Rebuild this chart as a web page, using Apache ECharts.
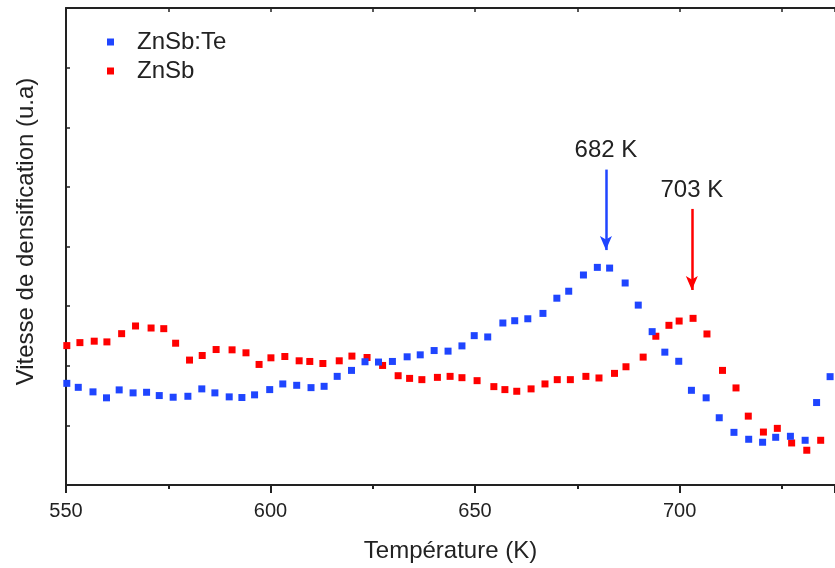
<!DOCTYPE html>
<html>
<head>
<meta charset="utf-8">
<script src="https://cdn.jsdelivr.net/npm/echarts@6/dist/echarts.min.js"></script>
<style>html,body{margin:0;padding:0;background:#fff}#c{width:835px;height:568px}</style>
</head>
<body>
<div id="c"></div>
<script>
// Temperatures (K) and densification rate (arbitrary units)
var teT = [550.2,553.0,556.6,559.9,563.0,566.4,569.7,572.8,576.2,579.8,583.2,586.4,589.9,593.0,596.1,599.8,603.0,606.4,609.9,613.1,616.3,619.8,623.1,626.4,629.8,633.4,636.6,640.0,643.4,646.8,649.8,653.1,656.8,659.7,662.9,666.6,670.0,672.9,676.5,679.9,682.9,686.7,689.9,693.3,696.4,699.8,702.9,706.5,709.7,713.3,716.9,720.3,723.5,727.1,730.7,733.5,736.8];
var teV = [1.705,1.638,1.562,1.462,1.595,1.545,1.555,1.500,1.472,1.488,1.612,1.545,1.478,1.467,1.512,1.600,1.695,1.672,1.633,1.655,1.822,1.922,2.067,2.062,2.072,2.150,2.183,2.255,2.245,2.333,2.505,2.483,2.717,2.755,2.788,2.878,3.133,3.250,3.522,3.650,3.638,3.388,3.017,2.572,2.228,2.075,1.588,1.462,1.128,0.883,0.767,0.717,0.800,0.817,0.750,1.383,1.817];
var znT = [550.2,553.4,556.9,560.0,563.6,567.0,570.8,573.9,576.8,580.2,583.3,586.7,590.6,594.0,597.2,600.1,603.5,607.0,609.6,612.8,616.8,619.9,623.6,627.4,631.2,634.0,637.0,640.8,643.9,646.8,650.5,654.6,657.3,660.2,663.7,667.1,670.1,673.3,677.1,680.3,684.1,686.9,691.1,694.2,697.4,699.9,703.3,706.7,710.5,713.8,716.8,720.5,723.9,727.4,731.1,734.5];
var znV = [2.338,2.388,2.412,2.400,2.538,2.667,2.633,2.622,2.378,2.095,2.172,2.272,2.267,2.217,2.022,2.133,2.155,2.083,2.072,2.038,2.083,2.162,2.138,2.005,1.833,1.788,1.767,1.805,1.822,1.800,1.750,1.650,1.600,1.572,1.612,1.695,1.767,1.767,1.822,1.795,1.872,1.983,2.145,2.495,2.678,2.750,2.795,2.533,1.922,1.628,1.155,0.888,0.950,0.705,0.583,0.750];
var seriesNames = ['ZnSb:Te', 'ZnSb'];
// Peak annotations: [temperature, arrow top, arrow tip, label height]
var peakTe = [682, 5.29, 3.94, 5.62];
var peakZn = [703, 4.63, 3.27, 4.94];
var xTicks = [550, 600, 650, 700];

var blue = '#1f45ff', red = '#ff0000', ink = '#222222';
var font = 'Liberation Sans, Arial, sans-serif';

function zip(a, b) { return a.map(function (v, i) { return [v, b[i]]; }); }
function arrow(p, color) {
  return {
    silent: true, symbol: ['none', 'arrow'], symbolSize: [9, 14],
    lineStyle: { color: color, width: 2.5, type: 'solid', opacity: 1 },
    label: { show: false },
    data: [[{ coord: [p[0], p[1]] }, { coord: [p[0], p[2]] }]]
  };
}
function note(p) {
  return {
    silent: true, symbol: 'circle', symbolSize: 1,
    itemStyle: { color: 'rgba(0,0,0,0)' },
    label: { show: true, position: 'inside', formatter: p[0] + ' K', color: ink, fontSize: 24, fontFamily: font },
    data: [{ coord: [p[0], p[3]] }]
  };
}

var chart = echarts.init(document.getElementById('c'), null, { renderer: 'canvas' });
chart.setOption({
  animation: false,
  backgroundColor: '#ffffff',
  grid: { left: 66, right: 0, top: 8, bottom: 80 },
  legend: {
    orient: 'vertical', left: 102, top: 25, itemGap: 5,
    itemWidth: 7, itemHeight: 7, icon: 'rect',
    textStyle: { fontSize: 24, color: ink, fontFamily: font, padding: [0, 0, 0, 18] },
    data: seriesNames
  },
  xAxis: [{
    type: 'value', min: 550, max: 738, interval: 50,
    name: 'Température (K)', nameLocation: 'middle', nameGap: 54,
    nameTextStyle: { fontSize: 24, color: ink, fontFamily: font },
    axisLine: { lineStyle: { color: ink, width: 2 } },
    axisTick: { inside: false, length: 8, lineStyle: { color: ink, width: 2 } },
    minorTick: { show: true, splitNumber: 2, length: 4, lineStyle: { color: ink, width: 2 } },
    axisLabel: { fontSize: 20, color: ink, fontFamily: font, margin: 16, showMaxLabel: false,
      formatter: function (v) { return xTicks.indexOf(v) >= 0 ? String(v) : ''; } },
    splitLine: { show: false }
  }, {
    type: 'value', position: 'top', min: 550, max: 738, interval: 50,
    axisLine: { show: true, lineStyle: { color: ink, width: 2 } },
    axisTick: { show: true, inside: true, length: 4, lineStyle: { color: ink, width: 1.5 } },
    minorTick: { show: true, splitNumber: 2, length: 4, lineStyle: { color: ink, width: 1.5 } },
    axisLabel: { show: false }, splitLine: { show: false }
  }],
  yAxis: {
    type: 'value', min: 0, max: 8, interval: 1,
    name: 'Vitesse de densification (u.a)', nameLocation: 'middle', nameGap: 28,
    nameTextStyle: { fontSize: 24, color: ink, fontFamily: font, padding: [0, 0, 0, 30] },
    axisLine: { show: true, lineStyle: { color: ink, width: 2 } },
    axisTick: { show: true, inside: true, length: 4, lineStyle: { color: ink, width: 1.5 } },
    axisLabel: { show: false },
    splitLine: { show: false }
  },
  series: [{
    name: seriesNames[0], type: 'scatter', symbol: 'rect', symbolSize: 7,
    itemStyle: { color: blue, opacity: 1 }, data: zip(teT, teV),
    markLine: arrow(peakTe, blue), markPoint: note(peakTe), z: 3
  }, {
    name: seriesNames[1], type: 'scatter', symbol: 'rect', symbolSize: 7,
    itemStyle: { color: red, opacity: 1 }, data: zip(znT, znV),
    markLine: arrow(peakZn, red), markPoint: note(peakZn), z: 2
  }]
});
</script>
</body>
</html>
